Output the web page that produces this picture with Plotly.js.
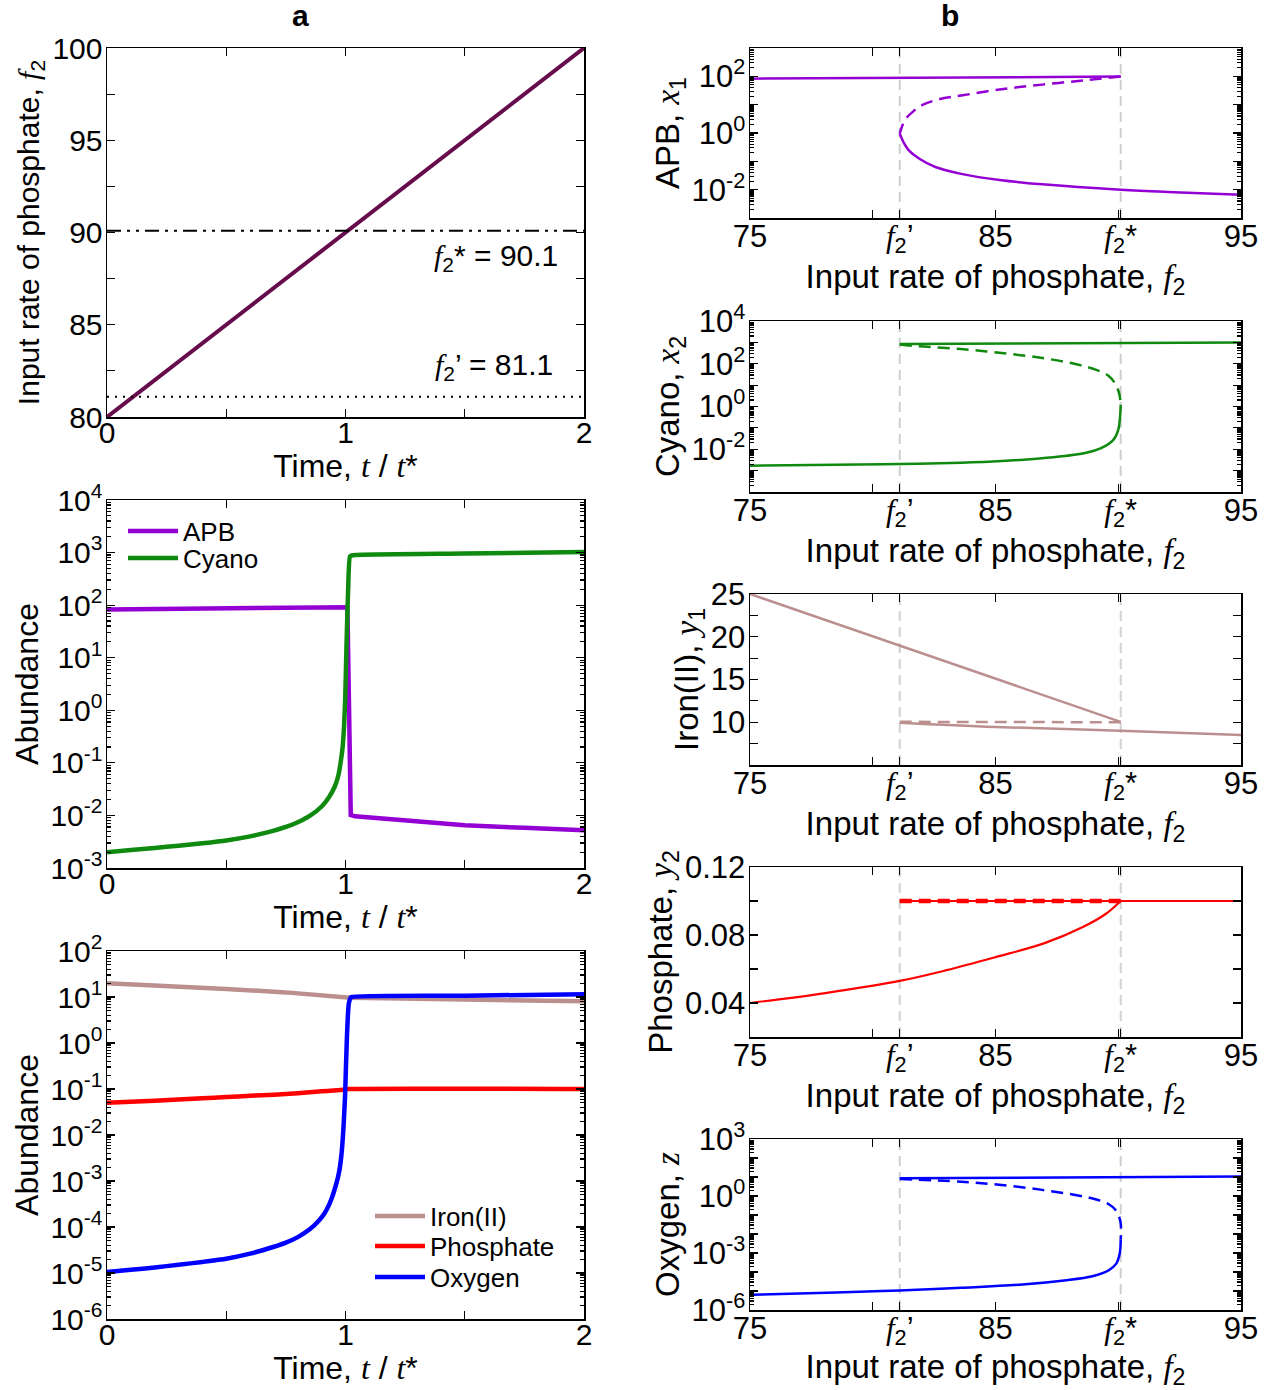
<!DOCTYPE html>
<html>
<head>
<meta charset="utf-8">
<script src="https://cdn.plot.ly/plotly-3.0.1.min.js"></script>
<style>
  html, body { margin: 0; padding: 0; background: #fff; }
  #chart { width: 1275px; height: 1390px; }
</style>
</head>
<body>
<div id="chart"></div>
<script>
// ---- critical input rates of phosphate ----
const F2_PRIME = 81.1;
const F2_STAR = 90.1;

// ---- (a) top: linear ramp of the phosphate input rate ----
const rampTime = [0, 2];
const rampF2 = [80, 100];

// ---- (a) middle: bacterial abundances over time ----
const apbTime  = [0, 0.5, 1.0, 1.008, 1.015, 1.022, 1.04, 1.25, 1.5, 1.75, 2.0];
const apbAbund = [83, 87, 91, 91, 1.0, 0.0102, 0.0096, 0.0079, 0.0065, 0.0058, 0.0052];
const cyanoTime  = [0, 0.1, 0.2, 0.3, 0.4, 0.5, 0.6, 0.7, 0.75, 0.8, 0.85, 0.9, 0.93, 0.955, 0.97,
                    0.98, 0.988, 0.994, 0.999, 1.004, 1.011, 1.019, 1.03, 1.5, 2.0];
const cyanoAbund = [0.0020, 0.00219, 0.0024, 0.00266, 0.00296, 0.00335, 0.00400, 0.00513, 0.00603, 0.00741,
                    0.00977, 0.0148, 0.0219, 0.0355, 0.0575, 0.105, 0.2, 0.5, 1.8, 15.8, 195, 850, 890, 955, 1020];

// ---- (a) bottom: chemical species over time ----
const ironTime  = [0, 0.25, 0.5, 0.75, 1.0, 1.02, 1.5, 2.0];
const ironAbund = [20, 17.5, 15.0, 12.6, 10.2, 9.6, 8.8, 8.1];
const phosTime  = [0, 0.2, 0.4, 0.5, 0.6, 0.7, 0.8, 0.9, 0.95, 1.0, 1.01, 2.0];
const phosAbund = [0.0505, 0.0555, 0.0627, 0.067, 0.0712, 0.0752, 0.081, 0.089, 0.0925, 0.098, 0.1, 0.1];
const oxyTime  = [0, 0.1, 0.2, 0.3, 0.4, 0.5, 0.6, 0.7, 0.75, 0.8, 0.85, 0.885, 0.911, 0.93, 0.944,
                  0.958, 0.969, 0.978, 0.986, 0.992, 0.998, 1.002, 1.006, 1.01, 1.014, 1.019, 1.024, 1.5, 2.0];
const oxyAbund = [1.05e-5, 1.17e-5, 1.32e-5, 1.51e-5, 1.74e-5, 2.04e-5, 2.63e-5, 3.72e-5, 4.57e-5, 6.03e-5,
                  8.91e-5, 1.32e-4, 1.95e-4, 2.95e-4, 4.47e-4, 7.59e-4, 1.23e-3, 2.24e-3, 5.5e-3, 0.0158,
                  0.0676, 0.316, 1.35, 3.98, 7.24, 9.12, 10.0, 10.7, 11.5];

// ---- (b) equilibrium branches vs. phosphate input rate ----
// APB, x1
const apbHighF2 = [75, 90.1];
const apbHigh   = [83, 98];
const apbMidF2  = [90.1, 88.6, 86.9, 85.25, 83.6, 82.7, 82.05, 81.65, 81.35, 81.18, 81.1];
const apbMid    = [98, 72, 51, 35, 21, 15.5, 10, 5.8, 3.2, 1.6, 0.95];
const apbLowF2  = [81.1, 81.25, 81.47, 81.9, 82.55, 83.6, 85.25, 86.9, 90.1, 92, 95];
const apbLow    = [0.95, 0.48, 0.245, 0.123, 0.063, 0.036, 0.0214, 0.0155, 0.010, 0.0083, 0.0066];
// Cyano, x2
const cyHighF2 = [81.1, 88, 95];
const cyHigh   = [830, 930, 1000];
const cyMidF2  = [81.1, 81.9, 83.6, 85.25, 86.9, 88.3, 89.1, 89.6, 89.9, 90.05, 90.1];
const cyMid    = [790, 650, 490, 316, 186, 95, 52, 27.5, 10.5, 3.5, 1.2];
const cyLowF2  = [90.1, 90.08, 90.0, 89.8, 89.3, 88.6, 86.9, 85.25, 83.6, 81.1, 78.5, 75];
const cyLow    = [1.2, 0.41, 0.081, 0.0275, 0.0112, 0.0065, 0.0038, 0.0028, 0.00234, 0.00204, 0.0019, 0.0017];
// Iron(II), y1
const feHighF2 = [75, 90.1];
const feHigh   = [25, 10.05];
const feMidF2  = [81.1, 90.1];
const feMid    = [10.05, 10.0];
const feLowF2  = [81.1, 85, 90.1, 95];
const feLow    = [9.95, 9.45, 9.0, 8.5];
// Phosphate, y2
const poHighF2 = [81.1, 95];
const poHigh   = [0.1, 0.1];
const poMidF2  = [81.1, 90.1];
const poMid    = [0.1, 0.1];
const poLowF2  = [75, 78, 81.1, 83, 85, 87, 88.6, 89.5, 90.1];
const poLow    = [0.040, 0.0457, 0.053, 0.0593, 0.067, 0.0752, 0.085, 0.0925, 0.1];
// Oxygen, z
const oxHighF2 = [81.1, 88, 95];
const oxHigh   = [8.6, 9.6, 10.5];
const oxMidF2  = [81.1, 83.6, 85.25, 86.9, 88.3, 89.1, 89.6, 89.9, 90.09, 90.1];
const oxMid    = [7.9, 5.7, 3.8, 2.1, 1.1, 0.66, 0.38, 0.18, 0.044, 0.005];
const oxLowF2  = [90.1, 90.06, 89.92, 89.6, 88.95, 87.8, 86.1, 83.6, 81.1, 78.5, 75];
const oxLow    = [0.005, 9.3e-4, 2.75e-4, 1.2e-4, 6.0e-5, 3.6e-5, 2.2e-5, 1.48e-5, 1.07e-5, 8.3e-6, 6.3e-6];

// ---- styling ----
const SANS = 'Liberation Sans, Arial, Helvetica, sans-serif';
const SERIF = 'Liberation Serif, Times New Roman, serif';
const C = {
  ramp: '#660c4c', apb: '#9400d3', cyano: '#0f8a0f',
  iron: '#bc8f8f', phos: '#ff0000', oxy: '#0000ff', guide: '#cfcfcf'
};

const W = 1275, H = 1390;
const xdom = (l, r) => [l / W, r / W];
const ydom = (t, b) => [1 - b / H, 1 - t / H];
const LEFT = xdom(107, 584);
const RIGHT = xdom(750, 1241);

const iv = s => '<span style="font-family:' + SERIF + '"><i>' + s + '</i></span>';
const f2 = iv('f') + '<sub>2</sub>';

function axisBase(tickSize, extra) {
  return Object.assign({
    showline: true, linecolor: '#000', linewidth: 1.5, mirror: 'ticks',
    ticks: 'inside', ticklen: 8, tickwidth: 1.2, tickcolor: '#000',
    showgrid: false, zeroline: false, fixedrange: true,
    tickfont: { family: SANS, size: tickSize, color: '#000' }
  }, extra);
}

function logAxis(lo, hi, labelled, tickSize, extra) {
  const vals = [], text = [], minor = [];
  for (let k = lo; k <= hi; k++) {
    vals.push(Math.pow(10, k));
    text.push(labelled.indexOf(k) >= 0 ? '10<sup>' + k + '</sup>' : '');
    if (k < hi) for (let m = 2; m <= 9; m++) minor.push(m * Math.pow(10, k));
  }
  return axisBase(tickSize, Object.assign({
    type: 'log', range: [lo, hi], tickmode: 'array', tickvals: vals, ticktext: text,
    ticklabelstandoff: -3,
    minor: { tickmode: 'array', tickvals: minor, ticks: 'inside', ticklen: 4, tickcolor: '#000', showgrid: false }
  }, extra));
}

function linAxis(lo, hi, step, labelled, fmt, tickSize, extra) {
  const vals = [], text = [];
  const n = Math.round((hi - lo) / step);
  for (let i = 0; i <= n; i++) {
    const v = +(lo + i * step).toFixed(6);
    vals.push(v);
    text.push(labelled.some(l => Math.abs(l - v) < 1e-9) ? fmt(v) : '');
  }
  return axisBase(tickSize, Object.assign({ range: [lo, hi], tickmode: 'array', tickvals: vals, ticktext: text }, extra));
}

function axTitle(text, size, standoff) {
  return { text: text, font: { family: SANS, size: size, color: '#000' }, standoff: standoff };
}

const timeTitle = 'Time, ' + iv('t') + ' / ' + iv('t') + '*';
const f2Title = 'Input rate of phosphate, ' + f2;
function f2Axis(anchor) {
  return axisBase(31, {
    domain: RIGHT, range: [75, 95], anchor: anchor, tickmode: 'array',
    tickvals: [75, 80, F2_PRIME, 85, 90, F2_STAR, 95],
    ticktext: ['75', '', f2 + '\u2019', '85', '', f2 + '*', '95'],
    ticklabelstandoff: -10,
    title: axTitle(f2Title, 33, 2)
  });
}
function timeAxis(anchor) {
  return linAxis(0, 2, 0.5, [0, 1, 2], v => String(v), 30, {
    domain: LEFT, anchor: anchor, ticklabelstandoff: -12, title: axTitle(timeTitle, 32, 2)
  });
}

// ---- traces ----
const traces = [];
function line(x, y, ax, color, width, opts) {
  opts = opts || {};
  const t = {
    type: 'scatter', mode: 'lines', x: x, y: y, xaxis: 'x' + ax, yaxis: 'y' + ax,
    line: { color: color, width: width, dash: opts.dash || 'solid',
            shape: opts.smooth ? 'spline' : 'linear', smoothing: opts.smooth || 0 },
    showlegend: !!opts.name, hoverinfo: 'skip'
  };
  if (opts.name) { t.name = opts.name; t.legend = opts.legend; }
  traces.push(t);
}

// (a) ramp
line(rampTime, rampF2, '', C.ramp, 4);
// (a) bacteria
line(apbTime, apbAbund, '2', C.apb, 4.5, { name: 'APB', legend: 'legend' });
line(cyanoTime, cyanoAbund, '2', C.cyano, 4.5, { name: 'Cyano', legend: 'legend2', smooth: 0.5 });
// (a) chemistry
line(ironTime, ironAbund, '3', C.iron, 4.5, { name: 'Iron(II)', legend: 'legend3' });
line(phosTime, phosAbund, '3', C.phos, 4.5, { name: 'Phosphate', legend: 'legend4', smooth: 0.5 });
line(oxyTime, oxyAbund, '3', C.oxy, 4.5, { name: 'Oxygen', legend: 'legend5', smooth: 0.5 });

// (b) branches: stable solid, unstable dashed
const DASH = '12px,7px';
line(apbHighF2, apbHigh, '4', C.apb, 2.5);
line(apbMidF2, apbMid, '4', C.apb, 2.5, { dash: DASH, smooth: 1 });
line(apbLowF2, apbLow, '4', C.apb, 2.5, { smooth: 1 });
line(cyHighF2, cyHigh, '5', C.cyano, 2.5);
line(cyMidF2, cyMid, '5', C.cyano, 2.5, { dash: DASH, smooth: 1 });
line(cyLowF2, cyLow, '5', C.cyano, 2.5, { smooth: 1 });
line(feHighF2, feHigh, '6', C.iron, 2.5);
line(feMidF2, feMid, '6', C.iron, 2.5, { dash: DASH });
line(feLowF2, feLow, '6', C.iron, 2.5, { smooth: 1 });
line(poHighF2, poHigh, '7', C.phos, 2.2);
line(poMidF2, poMid, '7', C.phos, 4.5, { dash: DASH });
line(poLowF2, poLow, '7', C.phos, 2.2, { smooth: 1 });
line(oxHighF2, oxHigh, '8', C.oxy, 2.5);
line(oxMidF2, oxMid, '8', C.oxy, 2.5, { dash: DASH, smooth: 1 });
line(oxLowF2, oxLow, '8', C.oxy, 2.5, { smooth: 1 });

// ---- reference lines ----
const shapes = [
  { type: 'line', xref: 'x domain', yref: 'y', x0: 0, x1: 1, y0: F2_STAR, y1: F2_STAR,
    line: { color: '#000', width: 2, dash: '14px,6px,3px,6px,3px,6px' } },
  { type: 'line', xref: 'x domain', yref: 'y', x0: 0, x1: 1, y0: F2_PRIME, y1: F2_PRIME,
    line: { color: '#000', width: 2, dash: '2px,6px' } }
];
['4', '5', '6', '7', '8'].forEach(ax => {
  [F2_PRIME, F2_STAR].forEach(v => shapes.push({
    type: 'line', xref: 'x' + ax, yref: 'y' + ax + ' domain', x0: v, x1: v, y0: 0, y1: 1,
    layer: 'below', line: { color: C.guide, width: 2, dash: '10px,6px' }
  }));
});

// ---- annotations ----
const annFont = { family: SANS, size: 30, color: '#000' };
const annotations = [
  { text: '<b>a</b>', xref: 'paper', yref: 'paper', x: 300 / W, y: 1 - 15 / H,
    xanchor: 'center', yanchor: 'middle', showarrow: false, font: { family: SANS, size: 30, color: '#000' } },
  { text: '<b>b</b>', xref: 'paper', yref: 'paper', x: 950 / W, y: 1 - 15 / H,
    xanchor: 'center', yanchor: 'middle', showarrow: false, font: { family: SANS, size: 30, color: '#000' } },
  { text: f2 + '* = ' + F2_STAR, xref: 'x', yref: 'y', x: 1.9, y: F2_STAR,
    xanchor: 'right', yanchor: 'top', yshift: -6, showarrow: false, font: annFont },
  { text: f2 + '\u2019 = ' + F2_PRIME, xref: 'x', yref: 'y', x: 1.88, y: F2_PRIME,
    xanchor: 'right', yanchor: 'bottom', yshift: 10, showarrow: false, font: annFont }
];

// ---- legends: one entry each, stacked inside the time-course panels ----
function legendAt(xPx, yPx) {
  return {
    x: xPx / W, y: 1 - yPx / H, xanchor: 'left', yanchor: 'middle',
    bgcolor: 'rgba(0,0,0,0)', borderwidth: 0, itemwidth: 50,
    font: { family: SANS, size: 26, color: '#000' }
  };
}

// ---- layout ----
const layout = {
  width: W, height: H,
  margin: { l: 0, r: 0, t: 0, b: 0 },
  paper_bgcolor: '#fff', plot_bgcolor: '#fff',
  font: { family: SANS, color: '#000' },
  showlegend: true,
  legend: legendAt(123, 531),
  legend2: legendAt(123, 558),
  legend3: legendAt(370, 1216),
  legend4: legendAt(370, 1246),
  legend5: legendAt(370, 1277),
  shapes: shapes,
  annotations: annotations,

  xaxis: timeAxis('y'),
  yaxis: linAxis(80, 100, 2.5, [80, 85, 90, 95, 100], v => String(v), 30, {
    domain: ydom(48, 417), anchor: 'x', ticklabelstandoff: -3,
    title: axTitle('Input rate of phosphate, ' + f2, 30, 4)
  }),

  xaxis2: timeAxis('y2'),
  yaxis2: logAxis(-3, 4, [-3, -2, -1, 0, 1, 2, 3, 4], 30, {
    domain: ydom(500, 868), anchor: 'x2', title: axTitle('Abundance', 32, 2)
  }),

  xaxis3: timeAxis('y3'),
  yaxis3: logAxis(-6, 2, [-6, -5, -4, -3, -2, -1, 0, 1, 2], 30, {
    domain: ydom(951, 1319), anchor: 'x3', title: axTitle('Abundance', 32, 2)
  }),

  xaxis4: f2Axis('y4'),
  yaxis4: logAxis(-3, 3, [-2, 0, 2], 31, {
    domain: ydom(48, 218), anchor: 'x4', title: axTitle('APB, ' + iv('x') + '<sub>1</sub>', 33, 2)
  }),
  xaxis5: f2Axis('y5'),
  yaxis5: logAxis(-4, 4, [-2, 0, 2, 4], 31, {
    domain: ydom(321, 492), anchor: 'x5', title: axTitle('Cyano, ' + iv('x') + '<sub>2</sub>', 33, 2)
  }),
  xaxis6: f2Axis('y6'),
  yaxis6: linAxis(5, 25, 2.5, [10, 15, 20, 25], v => String(v), 31, {
    domain: ydom(594, 765), anchor: 'x6', ticklabelstandoff: -3,
    title: axTitle('Iron(II), ' + iv('y') + '<sub>1</sub>', 33, 2)
  }),
  xaxis7: f2Axis('y7'),
  yaxis7: linAxis(0.02, 0.12, 0.02, [0.04, 0.08, 0.12], v => v.toFixed(2), 31, {
    domain: ydom(867, 1037), anchor: 'x7', ticklabelstandoff: -3,
    title: axTitle('Phosphate, ' + iv('y') + '<sub>2</sub>', 33, 2)
  }),
  xaxis8: f2Axis('y8'),
  yaxis8: logAxis(-6, 3, [-6, -3, 0, 3], 31, {
    domain: ydom(1139, 1310), anchor: 'x8', title: axTitle('Oxygen, ' + iv('z'), 33, 2)
  })
};

Plotly.newPlot('chart', traces, layout, { staticPlot: true, displayModeBar: false });
</script>
</body>
</html>
